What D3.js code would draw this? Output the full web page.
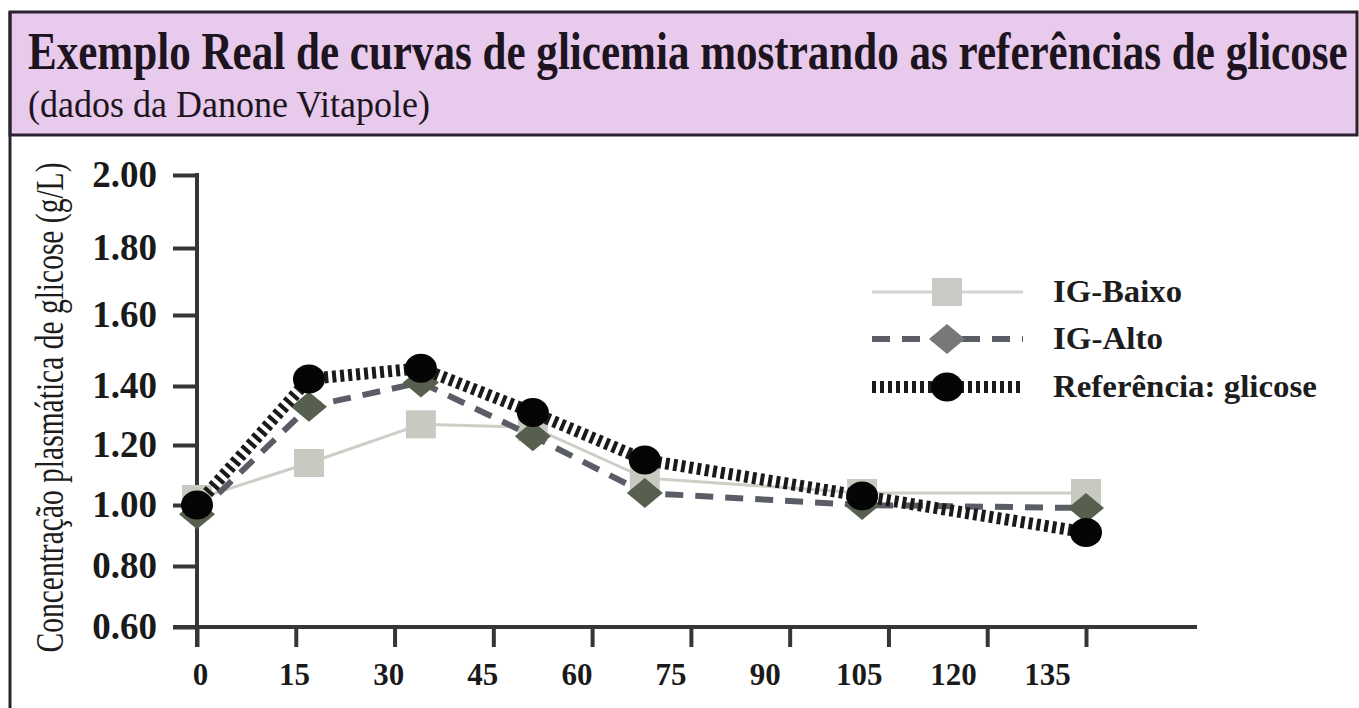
<!DOCTYPE html>
<html>
<head>
<meta charset="utf-8">
<script src="https://cdn.jsdelivr.net/npm/d3@7/dist/d3.min.js"></script>
<style>
  html, body { margin: 0; padding: 0; background: #ffffff; }
  svg { display: block; }
  text { font-family: "Liberation Serif", "DejaVu Serif", serif; }
</style>
</head>
<body>
<svg id="chart" width="1359" height="708"></svg>
<script>
// ---------------- DATA ----------------
const titleText = "Exemplo Real de curvas de glicemia mostrando as referências de glicose";
const subtitleText = "(dados da Danone Vitapole)";
const yAxisTitle = "Concentração plasmática de glicose (g/L)";

const times = [0, 17, 34, 51, 68, 101, 135];          // minutes (as plotted)
const igBaixo = [1.02, 1.14, 1.27, 1.26, 1.09, 1.04, 1.04];
const igAlto = [0.97, 1.33, 1.41, 1.23, 1.04, 1.00, 0.99];
const referencia = [1.00, 1.42, 1.45, 1.31, 1.15, 1.03, 0.91];

const seriesNames = ["IG-Baixo", "IG-Alto", "Referência: glicose"];

const xTickValues = [0, 15, 30, 45, 60, 75, 90, 105, 120, 135];
const yTickValues = [0.60, 0.80, 1.00, 1.20, 1.40, 1.60, 1.80, 2.00];
const yTickLabels = ["0.60", "0.80", "1.00", "1.20", "1.40", "1.60", "1.80", "2.00"];

// ---------------- LAYOUT ----------------
const svg = d3.select("#chart");
const W = 1359, H = 708;
// the original axis is slightly uneven; pixel rows of each y tick
const yTickPx = [627, 566, 505, 445, 386, 315, 248, 175];
const x = d3.scaleLinear().domain([0, 135]).range([197, 1086]);
const xLabel = d3.scaleLinear().domain([0, 135]).range([200, 1047]);
const y = d3.scaleLinear().domain(yTickValues).range(yTickPx);

const axisColor = "#363636";

// scale a text horizontally so that it spans targetWidth
function fitText(sel, x0, y0, targetWidth) {
  const natural = sel.node().getComputedTextLength();
  const k = targetWidth / natural;
  sel.attr("x", 0).attr("y", 0)
     .attr("transform", `translate(${x0},${y0}) scale(${k},1)`);
  return sel;
}

// ---------------- HEADER ----------------
svg.append("rect")
  .attr("x", 10).attr("y", 12).attr("width", 1347).attr("height", 123)
  .attr("fill", "#e7caec")
  .attr("stroke", "#2b2230").attr("stroke-width", 3);
svg.append("line")
  .attr("x1", 10).attr("x2", 10).attr("y1", 12).attr("y2", H)
  .attr("stroke", "#2b2230").attr("stroke-width", 3);

fitText(svg.append("text")
  .attr("font-size", 52).attr("font-weight", "bold")
  .attr("fill", "#1d1420")
  .text(titleText), 28, 69, 1320);

fitText(svg.append("text")
  .attr("font-size", 37)
  .attr("fill", "#1d1420")
  .text(subtitleText), 28, 117, 402);

// ---------------- AXES ----------------
const xAxisLineEnd = 1197;
svg.append("line")
  .attr("x1", 173).attr("x2", xAxisLineEnd)
  .attr("y1", y(0.6)).attr("y2", y(0.6))
  .attr("stroke", axisColor).attr("stroke-width", 4);

const gx = svg.append("g")
  .attr("transform", `translate(0,${y(0.6)})`)
  .call(d3.axisBottom(x).tickValues(xTickValues).tickSize(20).tickFormat(""));
gx.select(".domain").remove();
gx.selectAll(".tick line").attr("stroke", axisColor).attr("stroke-width", 4);

const gxl = svg.append("g")
  .attr("transform", `translate(0,${y(0.6)})`)
  .call(d3.axisBottom(xLabel).tickValues(xTickValues).tickSize(0).tickFormat(d3.format("d")));
gxl.select(".domain").remove();
gxl.selectAll(".tick text")
  .attr("y", 58).attr("dy", 0)
  .attr("font-size", 31).attr("font-weight", "bold")
  .attr("font-family", "Liberation Serif, serif")
  .attr("fill", "#1a1a1a");

const gy = svg.append("g")
  .attr("transform", "translate(197,0)")
  .call(d3.axisLeft(y).tickValues(yTickValues).tickSize(24).tickPadding(16)
        .tickFormat((d, i) => yTickLabels[i]));
gy.select(".domain").remove();
gy.selectAll(".tick line").attr("stroke", axisColor).attr("stroke-width", 4);
gy.selectAll(".tick text")
  .attr("font-size", 37).attr("font-weight", "bold")
  .attr("font-family", "Liberation Serif, serif")
  .attr("fill", "#1a1a1a");
svg.append("line")
  .attr("x1", 197).attr("x2", 197)
  .attr("y1", y(2.0) - 2).attr("y2", y(0.6) + 20)
  .attr("stroke", axisColor).attr("stroke-width", 4);

// y axis title (rotated, condensed)
{
  const t = svg.append("text")
    .attr("font-size", 39)
    .attr("fill", "#1d1d1d")
    .text(yAxisTitle);
  const natural = t.node().getComputedTextLength();
  const k = Math.min(1, 490 / natural);
  t.attr("text-anchor", "middle")
   .attr("transform", `translate(63,${(163 + 652) / 2}) rotate(-90) scale(${k},1)`);
}

// ---------------- SERIES ----------------
const line = d3.line().x(d => x(d.t)).y(d => y(d.v));
const toPts = vals => vals.map((v, i) => ({ t: times[i], v }));

const styles = [
  { vals: igBaixo, stroke: "#cdcfc7", width: 3, dash: null, marker: "square", fill: "#c8cac2", legendFill: "#c9c9c6" },
  { vals: igAlto, stroke: "#5a5d66", width: 6, dash: "18,12", marker: "diamond", fill: "#57604f", legendFill: "#787878" },
  { vals: referencia, stroke: "#1a1a1a", width: 12, dash: "4,4", marker: "circle", fill: "#050505", legendFill: "#050505" }
];

function drawMarker(g, kind, cx, cy, fill) {
  if (kind === "square") {
    g.append("rect").attr("x", cx - 15).attr("y", cy - 14)
      .attr("width", 30).attr("height", 28).attr("fill", fill);
  } else if (kind === "diamond") {
    g.append("path")
      .attr("d", `M${cx - 18},${cy}L${cx},${cy - 15}L${cx + 18},${cy}L${cx},${cy + 15}Z`)
      .attr("fill", fill);
  } else {
    g.append("ellipse").attr("cx", cx).attr("cy", cy)
      .attr("rx", 16).attr("ry", 14.5).attr("fill", fill);
  }
}

styles.forEach(s => {
  const pts = toPts(s.vals);
  const g = svg.append("g");
  g.append("path")
    .attr("d", line(pts))
    .attr("fill", "none")
    .attr("stroke", s.stroke)
    .attr("stroke-width", s.width)
    .attr("stroke-dasharray", s.dash)
    .attr("stroke-linejoin", "round");
  pts.forEach(p => drawMarker(g, s.marker, x(p.t), y(p.v), s.fill));
});

// ---------------- LEGEND ----------------
const legendRows = [292, 339, 387];
const legendTextLen = [129, 110, 264];
styles.forEach((s, i) => {
  const g = svg.append("g");
  const cy = legendRows[i];
  g.append("line")
    .attr("x1", 872).attr("x2", 1023).attr("y1", cy).attr("y2", cy)
    .attr("stroke", i === 0 ? "#d3d3d3" : s.stroke)
    .attr("stroke-width", s.width)
    .attr("stroke-dasharray", s.dash);
  drawMarker(g, s.marker, 947, cy, s.legendFill);
  fitText(g.append("text")
    .attr("font-size", 31).attr("font-weight", "bold")
    .attr("fill", "#1d1d1d")
    .text(seriesNames[i]), 1053, cy + 10, legendTextLen[i]);
});
</script>
</body>
</html>
